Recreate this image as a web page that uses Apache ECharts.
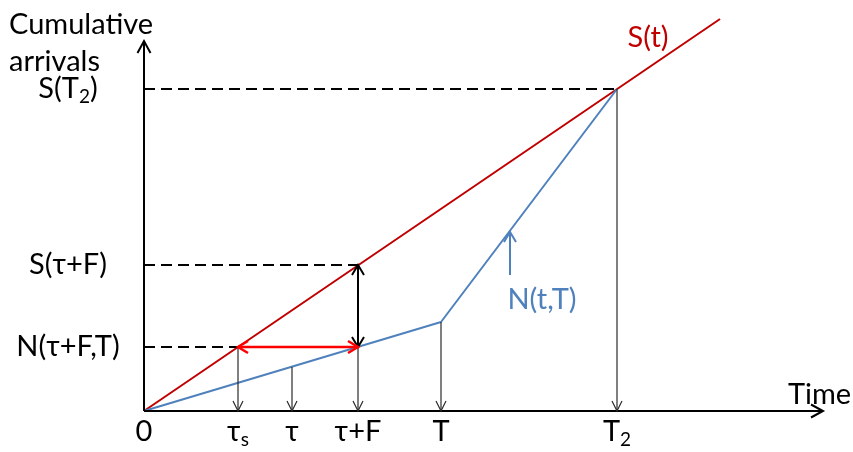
<!DOCTYPE html>
<html>
<head>
<meta charset="utf-8">
<script src="https://cdn.jsdelivr.net/npm/echarts@6/dist/echarts.min.js"></script>
<style>
  html, body { margin: 0; padding: 0; background: #fff; }
  #chart { width: 853px; height: 452px; }
</style>
</head>
<body>
<div id="chart"></div>
<script>
// Time marks along the horizontal axis ("_x" marks a subscript)
const timeLabels = ['0', 'τ_s', 'τ', 'τ+F', 'T', 'T_2'];
const timeValues = [0, 94, 148, 214, 297, 473];

// Cumulative levels marked on the vertical axis
const levelLabels = ['N(τ+F,T)', 'S(τ+F)', 'S(T_2)'];
const levelValues = [64, 146, 322];

// Cumulative supply S(t) and cumulative arrivals N(t,T)
const supplyCurve = [[0, 0], [576, 392]];
const arrivalCurve = [[0, 0], [297, 89], [473, 322]];

// Heights the drop arrows start from at τs, τ, τ+F, T, T2
const dropFrom = [64, 44, 64, 89, 322];

// Pointer from the N(t,T) label up to its curve
const pointerFrom = [366, 136];
const pointerTo = [366, 179];

// Curve names
const curveNames = ['S(t)', 'N(t,T)'];

const axisEnd = { x: 679, y: 370 };

const FONT = 'Lato, "Liberation Sans", sans-serif';
const FS = 29;

// turn "S(T_2)" into rich text with a subscript
function richLabel(s) {
  const parts = s.split(/_(.)/);
  return parts.map((p, i) => p === '' ? '' : (i % 2 ? '{s|' + p + '}' : '{m|' + p + '}')).join('');
}
const richStyle = {
  m: { fontSize: FS, fontFamily: FONT, color: '#000', lineHeight: 34 },
  s: { fontSize: 19, fontFamily: FONT, color: '#000', lineHeight: 10, verticalAlign: 'bottom' }
};

// custom series drawing straight segments with open arrow heads
function segmentSeries(segs, color, width, head, dash) {
  return {
    type: 'custom',
    coordinateSystem: 'cartesian2d',
    clip: false,
    silent: true,
    animation: false,
    z: 5,
    data: segs,
    encode: { x: [0, 2], y: [1, 3] },
    renderItem: function (params, api) {
      const a = api.coord([api.value(0), api.value(1)]);
      const b = api.coord([api.value(2), api.value(3)]);
      const children = [{
        type: 'line',
        shape: { x1: a[0], y1: a[1], x2: b[0], y2: b[1] },
        style: { stroke: color, lineWidth: width, lineDash: dash || null }
      }];
      function tip(p, q) {
        const dx = p[0] - q[0], dy = p[1] - q[1];
        const len = Math.sqrt(dx * dx + dy * dy) || 1;
        const ux = dx / len, uy = dy / len;
        const nx = -uy, ny = ux;
        return {
          type: 'polyline',
          shape: { points: [
            [p[0] - head.l * ux + head.w * nx, p[1] - head.l * uy + head.w * ny],
            [p[0], p[1]],
            [p[0] - head.l * ux - head.w * nx, p[1] - head.l * uy - head.w * ny]
          ] },
          style: { stroke: color, lineWidth: width, fill: null, lineJoin: 'miter' }
        };
      }
      if (api.value(5)) children.push(tip(b, a));
      if (api.value(4)) children.push(tip(a, b));
      return { type: 'group', children: children };
    }
  };
}

const chart = echarts.init(document.getElementById('chart'), null, { renderer: 'canvas' });

// drop arrows from the curves down to the time axis
const drops = timeValues.slice(1).map((t, i) => [t, dropFrom[i], t, 0, 0, 1]);
// dashed guides from the vertical axis to the marked points
const guideEnds = [timeValues[1], timeValues[3], timeValues[5]];
const guides = levelValues.map((v, i) => [0, v, guideEnds[i], v, 0, 0]);

chart.setOption({
  animation: false,
  backgroundColor: '#fff',
  title: [
    { text: 'Cumulative\narrivals', left: 4, top: 1,
      textStyle: { fontFamily: FONT, fontSize: FS, fontWeight: 'normal', color: '#000', lineHeight: 37 } },
    { text: 'Time', left: 783, top: 375,
      textStyle: { fontFamily: FONT, fontSize: FS, fontWeight: 'normal', color: '#000' } }
  ],
  grid: { left: 144, right: 30, top: 41, bottom: 41 },
  xAxis: {
    type: 'value', min: 0, max: axisEnd.x,
    axisLine: { show: false }, axisTick: { show: false }, splitLine: { show: false },
    axisLabel: {
      customValues: timeValues,
      margin: 4,
      verticalAlign: 'top',
      formatter: v => richLabel(timeLabels[timeValues.indexOf(v)] || ''),
      rich: richStyle
    }
  },
  yAxis: {
    type: 'value', min: 0, max: axisEnd.y,
    axisLine: { show: false }, axisTick: { show: false }, splitLine: { show: false },
    axisLabel: {
      customValues: levelValues,
      margin: 76,
      align: 'center',
      formatter: v => richLabel(levelLabels[levelValues.indexOf(v)] || ''),
      rich: richStyle
    }
  },
  series: [
    {
      type: 'line', data: supplyCurve, showSymbol: false, silent: true, z: 3, clip: false,
      lineStyle: { color: '#C00000', width: 2 }
    },
    {
      type: 'line', data: arrivalCurve, showSymbol: false, silent: true, z: 3, clip: false,
      lineStyle: { color: '#4F81BD', width: 2 }
    },
    // axes with arrow heads
    segmentSeries([[0, 0, axisEnd.x, 0, 0, 1], [0, 0, 0, axisEnd.y, 0, 1]], '#000', 2, { l: 12, w: 6.5 }),
    // dashed guides
    segmentSeries(guides, '#000', 1.8, { l: 0, w: 0 }, [11, 6]),
    // thin drop arrows
    segmentSeries(drops, '#2a2a2a', 1.2, { l: 10, w: 5 }),
    // double arrow between S(τ+F) and N(τ+F,T)
    segmentSeries([[timeValues[3], levelValues[1], timeValues[3], levelValues[0], 1, 1]], '#000', 2, { l: 10, w: 6 }),
    // horizontal double arrow from τs to τ+F
    segmentSeries([[timeValues[1], levelValues[0], timeValues[3], levelValues[0], 1, 1]], '#FF0000', 2.5, { l: 10, w: 6 }),
    // pointer to N(t,T)
    segmentSeries([[pointerFrom[0], pointerFrom[1], pointerTo[0], pointerTo[1], 0, 1]], '#4F81BD', 2, { l: 10, w: 6 }),
    // curve names
    {
      type: 'custom', coordinateSystem: 'cartesian2d', clip: false, silent: true, z: 6,
      data: [[504, 373, 0], [398, 111, 1]],
      renderItem: function (params, api) {
        const p = api.coord([api.value(0), api.value(1)]);
        const idx = api.value(2);
        return {
          type: 'text',
          style: {
            text: curveNames[idx], x: p[0], y: p[1],
            fill: idx === 0 ? '#C00000' : '#4F81BD',
            font: FS + 'px ' + FONT, align: 'center', verticalAlign: 'middle'
          }
        };
      }
    }
  ]
});
</script>
</body>
</html>
